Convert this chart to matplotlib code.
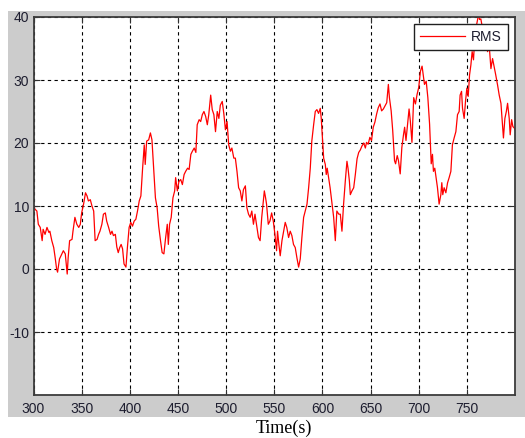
import numpy as np
import matplotlib.pyplot as plt
from matplotlib.patches import Rectangle

plt.rcParams['font.family'] = ['Liberation Sans', 'DejaVu Sans']
plt.rcParams['axes.unicode_minus'] = False

# values
time_s = [
    300, 301.5, 303.5, 305, 307, 309, 310, 312, 314, 316, 317, 319, 321, 322.5,
    324, 325, 327, 329.5, 331, 333, 335, 336, 337.5, 340, 341, 343, 345, 347,
    348.6, 350, 352, 354, 355.6, 357, 359, 360.7, 362.5, 364, 366, 367.6, 369,
    371, 372.6, 374.6, 376, 378, 380, 381.5, 383, 385, 386.5, 388, 389.5, 391,
    392.5, 394, 396, 397.5, 399.3, 401, 402.8, 404.5, 406.3, 408, 409.8, 411.5,
    413.3, 415, 416, 417.5, 419.6, 421.4, 423, 424.9, 426.6, 428.4, 430, 431.9,
    433.6, 435.4, 437, 438.9, 440, 441.3, 443, 444.8, 446.6, 447.6, 449.4, 451,
    452.9, 454.6, 456.4, 458, 460, 461.6, 463.4, 465, 466.9, 468.6, 470, 472,
    473.6, 475.3, 477, 478.8, 480.5, 482, 484, 485.6, 487.3, 489, 490.8, 492.5,
    494, 496, 497.6, 499.3, 501, 502.7, 504.5, 506, 508, 509.6, 511.3, 513,
    514.7, 516.4, 518, 520, 521.6, 523.3, 525, 526.7, 528.4, 530, 531.8, 533.6,
    535.3, 537, 538.7, 539.7, 541, 542, 543.8, 545.5, 547.3, 549, 550.7, 552.4,
    553.4, 554.8, 556.2, 558, 559.7, 561.4, 563, 564.9, 566.6, 568.3, 570,
    571.8, 573.5, 575.3, 577, 578.7, 580.5, 582.2, 584, 585.7, 587.4, 589,
    590.9, 592.6, 594.3, 596, 597.8, 598.8, 600.2, 601.3, 603, 604, 605, 606.5,
    608, 610, 611.7, 613.4, 615, 617, 618.6, 620.3, 622, 623.8, 625.5, 626.6,
    628, 629, 630.7, 632.5, 634.2, 636, 637.7, 639.4, 641, 642.9, 644.6, 645.8,
    647.5, 649.3, 651, 652.8, 654.5, 656.3, 658, 659.8, 661.5, 663.3, 665,
    666.8, 668.5, 669.6, 671.4, 673, 674.9, 676, 677.7, 679, 680.8, 682.5,
    684.3, 685.4, 686.8, 688.5, 690, 691.3, 693, 694.8, 696.6, 698.3, 700,
    701.8, 703.5, 704.6, 706, 707.8, 709.5, 711.3, 713, 714.3, 715.3, 716.7,
    718, 719.5, 721.2, 723, 724, 725, 726.4, 728.2, 730, 731.6, 733.4, 735,
    736.8, 738.6, 740.3, 742, 743, 744.5, 745.5, 747.2, 748.6, 750, 751.4,
    752.8, 754.2, 755.5, 756.9, 758, 759.4, 761, 762.3, 763.2, 764.5, 766.3,
    768, 769.8, 771.5, 773.2, 775, 776.7, 778.4, 780, 781.9, 783.6, 785.4, 787,
    788, 789.5, 791, 792.3, 794, 795, 796.5, 797.8, 799.2, 800,
]
rms = [
    10.0, 9.5, 9.2, 7.1, 6.6, 4.5, 6.3, 5.5, 6.6, 5.8, 6.0, 4.5, 3.4, 1.8,
    0.0, -0.5, 1.6, 2.4, 2.9, 2.4, -0.8, 1.8, 4.5, 4.7, 6.0, 8.2, 7.1, 6.6,
    7.1, 8.9, 10.3, 12.1, 11.6, 10.8, 11.0, 10.0, 9.2, 4.5, 4.7, 5.5, 6.0,
    7.1, 8.7, 8.9, 7.6, 6.6, 5.5, 6.0, 5.3, 5.5, 3.5, 2.6, 3.4, 3.9,
    3.2, 0.8, 0.3, 3.4, 6.6, 7.4, 6.8, 7.6, 7.9, 9.2, 10.8, 11.6,
    16.0, 19.7, 16.6, 20.3, 20.5, 21.6, 20.5, 15.5, 11.3, 9.7, 6.8, 4.5,
    2.6, 2.4, 4.7, 7.1, 3.9, 7.1, 8.2, 11.3, 12.4, 14.5, 12.4, 13.9,
    14.2, 13.4, 15.0, 15.5, 16.0, 15.8, 18.2, 18.7, 19.2, 18.5, 22.9, 23.7,
    23.4, 24.5, 25.0, 24.2, 22.9, 24.5, 27.6, 25.3, 24.5, 21.8, 25.0, 23.9,
    26.0, 26.6, 24.7, 22.1, 23.4, 19.7, 18.7, 19.2, 17.6, 17.6, 15.5, 12.9,
    12.4, 10.8, 12.6, 13.2, 9.7, 8.7, 8.2, 9.2, 7.1, 8.7, 6.8, 5.0,
    4.5, 8.2, 10.8, 12.4, 11.3, 10.3, 7.1, 7.6, 8.9, 7.6, 5.5, 2.9,
    6.0, 3.9, 2.1, 4.5, 6.0, 7.4, 6.6, 5.0, 6.0, 5.3, 3.9,
    3.4, 1.8, 0.3, 1.6, 5.0, 8.2, 9.2, 10.3, 12.9, 16.0, 20.3,
    22.9, 25.0, 25.3, 24.7, 25.5, 23.9, 20.3, 17.6, 16.6, 15.0, 16.0, 14.5,
    12.9, 10.3, 8.2, 4.5, 9.2, 8.7, 8.7, 6.0, 10.3, 14.0, 17.1, 16.0,
    14.0, 11.8, 12.4, 12.9, 15.0, 17.5, 18.5, 18.9, 19.5, 20.0, 19.2, 20.1,
    19.8, 20.9, 20.4, 22.5, 23.3, 24.6, 25.6, 26.2, 25.1, 25.4, 25.9,
    26.4, 29.3, 27.2, 25.1, 22.0, 17.2, 16.7, 18.0, 17.2, 15.1, 19.3,
    21.4, 22.5, 20.4, 23.0, 25.4, 23.5, 20.1, 27.2, 26.2, 27.7, 28.8,
    31.4, 32.2, 30.9, 29.3, 29.8, 27.2, 23.0, 16.7, 18.2, 15.5, 16.0,
    14.5, 12.9, 10.3, 11.8, 13.7, 11.8, 12.9, 12.1, 13.7, 14.5, 15.5, 19.7,
    20.8, 21.8, 24.5, 25.0, 27.6, 28.2, 25.5, 23.9, 26.6, 28.7, 27.4,
    30.8, 32.4, 34.5, 33.2, 36.1, 38.2, 39.5, 40.5, 39.6, 39.7, 38.2,
    36.6, 36.1, 34.5, 35.5, 31.8, 33.4, 32.1, 30.8, 29.2, 27.6, 26.3, 22.9,
    20.8, 23.9, 25.0, 26.3, 23.9, 21.3, 23.7, 22.6, 22.4, 22.1,
]
x_ticks = [300, 350, 400, 450, 500, 550, 600, 650, 700, 750]
y_ticks = [-10, 0, 10, 20, 30, 40]

W, H = 525, 438
fig = plt.figure(figsize=(W / 100, H / 100), dpi=100)
fig.patch.set_facecolor('white')
fig.patches.append(Rectangle((8 / W, 21 / H), 517 / W, 406 / H, transform=fig.transFigure,
                             facecolor='#cccccc', edgecolor='none', zorder=-5))

ax = fig.add_axes([33.5 / W, 43 / H, 481.5 / W, 378 / H])
ax.set_facecolor('white')
ax.plot(time_s, rms, color='#ff0000', lw=0.9, label='RMS')
ax.set_xlim(300, 800)
ax.set_ylim(-20, 40)
ax.set_xticks(x_ticks)
ax.set_yticks(y_ticks)
ax.grid(True, color='black', linestyle=(0, (3, 3)), linewidth=0.8)
ax.tick_params(direction='in', top=True, right=True, length=4, width=0.8,
               labelsize=10, labelcolor='#1e1e30', color='#303030')
ax.tick_params(axis='x', pad=5)
ax.tick_params(axis='y', pad=3)
for s in ax.spines.values():
    s.set_color('#3c3c3c')
    s.set_linewidth(1.3)

leg = ax.legend(loc='upper right', fancybox=False, framealpha=1, edgecolor='#202020',
                fontsize=10, handlelength=3.2, handletextpad=0.45, borderpad=0.45)
leg.get_frame().set_linewidth(1.0)
for txt in leg.get_texts():
    txt.set_color('#1e1e30')

fig.text(284 / W, 1 - 428 / H, 'Time(s)', family='Liberation Serif', fontsize=13,
         ha='center', va='center', color='black')

fig.savefig('out.png', dpi=100)
